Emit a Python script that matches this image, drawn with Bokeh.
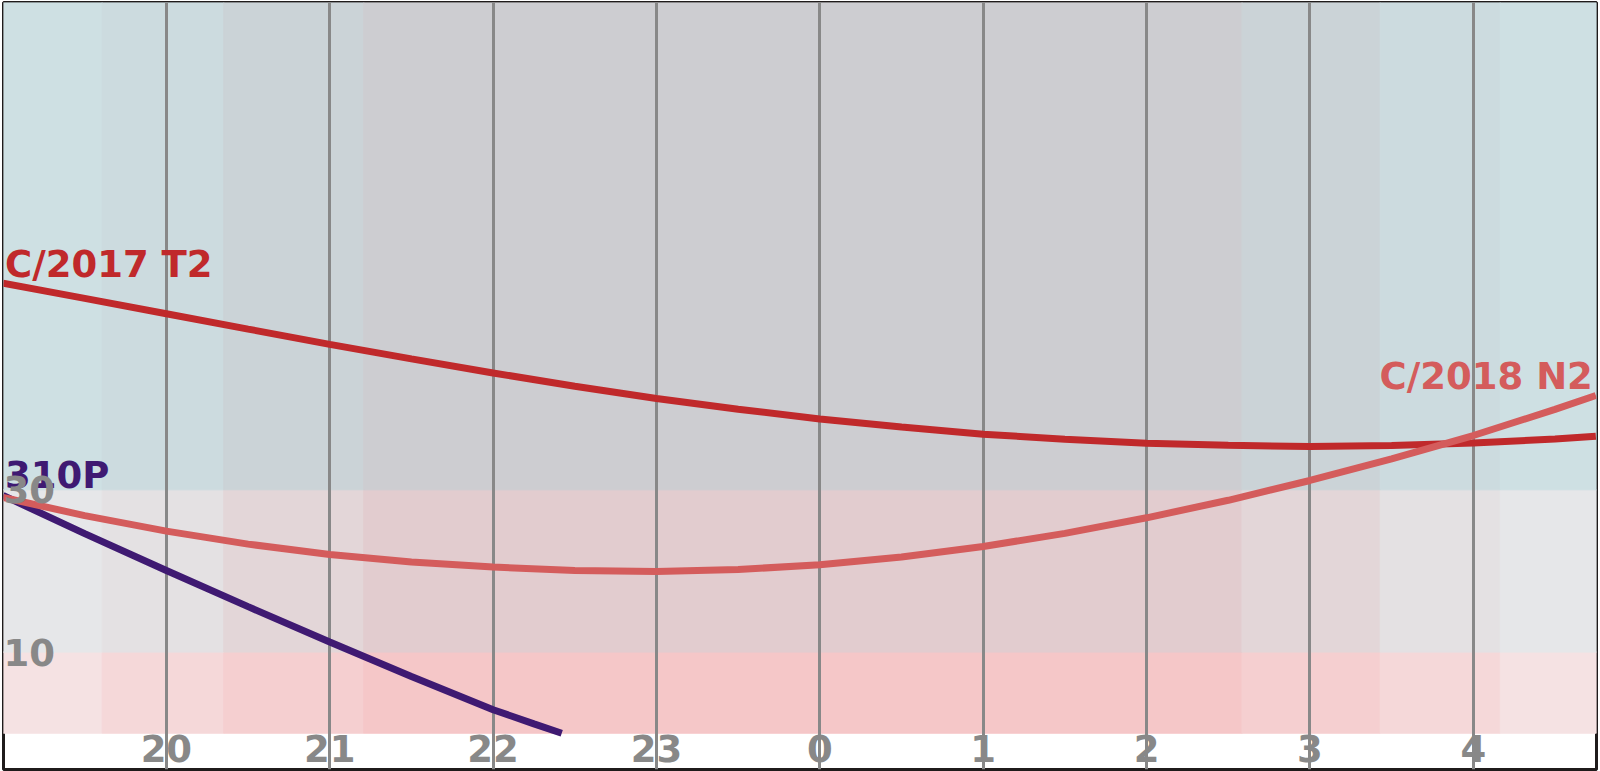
from bokeh.plotting import figure
from bokeh.models import Range1d, FixedTicker, ColumnDataSource
from bokeh.core.properties import value
from bokeh.embed import file_html
from bokeh.resources import INLINE

# ---- data ----
hours = [19.0, 19.5, 20.0, 20.5, 21.0, 21.5, 22.0, 22.5, 23.0, 23.5, 24.0,
         24.5, 25.0, 25.5, 26.0, 26.5, 27.0, 27.5, 28.0, 28.5, 28.75]
t2_alt = [55.47, 53.59, 51.70, 49.81, 47.93, 46.14, 44.40, 42.77, 41.26, 39.94, 38.74,
          37.74, 36.86, 36.23, 35.73, 35.48, 35.35, 35.45, 35.78, 36.25, 36.60]
n2_alt = [29.05, 26.82, 24.91, 23.31, 22.03, 21.10, 20.49, 20.05, 19.93, 20.18, 20.76,
          21.73, 23.02, 24.63, 26.55, 28.71, 31.15, 33.80, 36.69, 39.91, 41.62]
p310_hours = [19.0, 19.5, 20.0, 20.5, 21.0, 21.5, 22.0, 22.25, 22.42]
p310_alt = [29.3, 24.6, 20.05, 15.6, 11.25, 7.0, 2.9, 1.15, 0.0]

tick_hours = [20, 21, 22, 23, 24, 25, 26, 27, 28]
tick_labels = ["20", "21", "22", "23", "0", "1", "2", "3", "4"]
alt_ticks = [10, 30]

# sunset / twilight boundaries (hours) and darkness level of each interval
twilight_edges = [19.0, 19.607, 20.351, 21.208, 26.584, 27.430, 28.165, 28.754]
darkness = [0, 1, 2, 3, 2, 1, 0]
zone_edges = [0, 10, 30, 90.06]

comet_names = ["C/2017 T2", "C/2018 N2", "310P"]
label_x = [hours[0], hours[-1], p310_hours[0]]
label_y = [t2_alt[0], n2_alt[-1], p310_alt[0]]

# ---- styles ----
zone_colors = [
    ["#f5e2e3", "#f5d8d9", "#f5cfd0", "#f5c7c8"],   # below 10
    ["#e6e7e9", "#e4e1e3", "#e3d6d8", "#e2cccf"],   # 10-30
    ["#cee0e3", "#ccdbdf", "#cbd3d7", "#cdcdd1"],   # above 30
]
comet_colors = ["#c0292b", "#d45c5c", "#3f1a72"]
label_align = ["left", "right", "left"]
label_dx = [2, -3, 2]
label_dy = [-19, -19, -20]
FONT = "DejaVu Sans"
GRAY = "#888888"

p = figure(width=1600, height=771,
           x_range=Range1d(19.003, 28.754), y_range=Range1d(-4.47, 90.06),
           output_backend="svg", toolbar_location=None,
           y_axis_location="right",
           min_border_left=3, min_border_right=4, min_border_top=2, min_border_bottom=2)
p.background_fill_color = "white"
p.border_fill_color = "white"
p.outline_line_color = "#1f1b1b"
p.outline_line_width = 3
p.outline_line_alpha = 1.0

# background cells
L, R, B, T, C = [], [], [], [], []
for zi in range(len(zone_edges) - 1):
    for ci in range(len(twilight_edges) - 1):
        L.append(twilight_edges[ci]); R.append(twilight_edges[ci + 1])
        B.append(zone_edges[zi]); T.append(zone_edges[zi + 1])
        C.append(zone_colors[zi][darkness[ci]])
bg = ColumnDataSource(dict(left=L, right=R, bottom=B, top=T, color=C))
p.quad(left="left", right="right", bottom="bottom", top="top",
       fill_color="color", line_color="color", line_width=1, source=bg, level="image")

# grid
p.xgrid.ticker = FixedTicker(ticks=tick_hours)
p.xgrid.grid_line_color = GRAY
p.xgrid.grid_line_width = 3
p.xgrid.bounds = (0, 90.06)
p.ygrid.visible = False

# axes
for ax in (p.xaxis, p.yaxis):
    ax.axis_line_color = None
    ax.major_tick_line_color = None
    ax.minor_tick_line_color = None
    ax.major_tick_out = 0
    ax.major_tick_in = 0
    ax.minor_tick_out = 0
    ax.minor_tick_in = 0
    ax.major_label_text_font = FONT
    ax.major_label_text_font_style = "bold"
    ax.major_label_text_font_size = "37px"
    ax.major_label_text_color = GRAY
p.xaxis.fixed_location = 0
p.xaxis.major_label_standoff = 2
p.xaxis.ticker = FixedTicker(ticks=tick_hours)
p.xaxis.major_label_overrides = {h: s for h, s in zip(tick_hours, tick_labels)}
p.yaxis.fixed_location = 19.003
p.yaxis.major_label_standoff = 0
p.yaxis.ticker = FixedTicker(ticks=alt_ticks)

# curves
LW = 7
p.line(hours, t2_alt, line_color=comet_colors[0], line_width=LW)
p.line(p310_hours, p310_alt, line_color=comet_colors[2], line_width=LW)
p.line(hours, n2_alt, line_color=comet_colors[1], line_width=LW)

# labels
lab = ColumnDataSource(dict(x=label_x, y=label_y, text=comet_names,
                            color=comet_colors, align=label_align,
                            dx=label_dx, dy=label_dy))
p.text(x="x", y="y", text="text", text_color="color", text_align="align",
       x_offset="dx", y_offset="dy", text_baseline="alphabetic",
       text_font=value(FONT), text_font_style="bold", text_font_size="37px",
       source=lab)

open("out.html", "w").write(file_html(p, INLINE))
